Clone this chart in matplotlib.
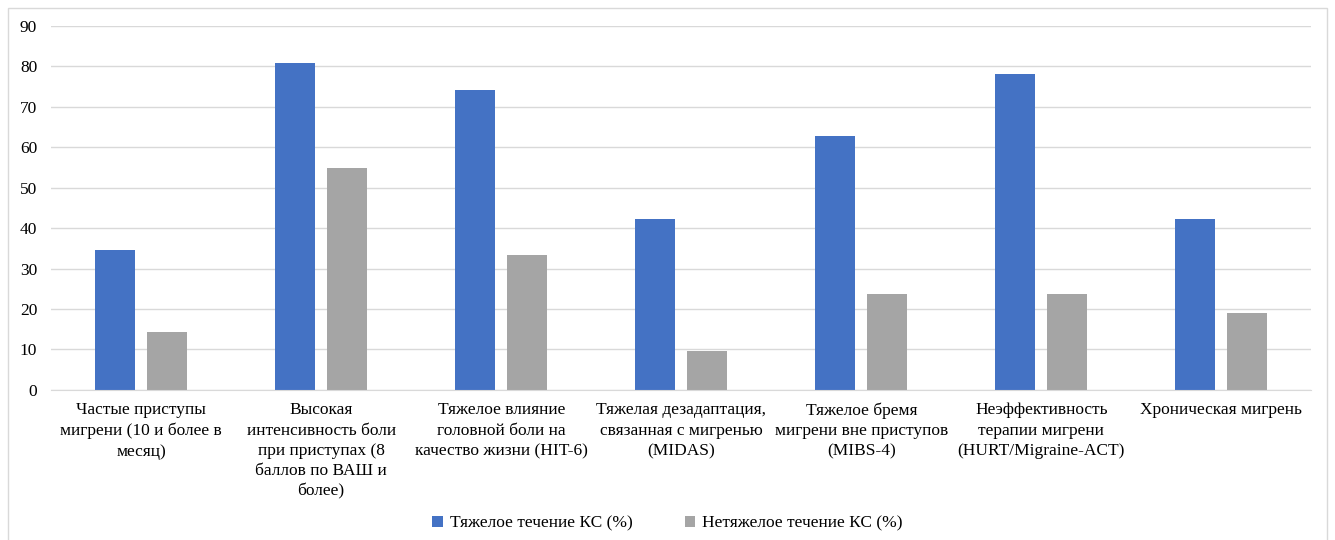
import matplotlib
matplotlib.use("Agg")
import matplotlib.pyplot as plt
import numpy as np
from matplotlib.patches import Rectangle

plt.rcParams["font.family"] = ["Liberation Serif", "DejaVu Serif"]

categories = [
    "Частые приступы\nмигрени (10 и более в\nмесяц)",
    "Высокая\nинтенсивность боли\nпри приступах (8\nбаллов по ВАШ и\nболее)",
    "Тяжелое влияние\nголовной боли на\nкачество жизни (HIT-6)",
    "Тяжелая дезадаптация,\nсвязанная с мигренью\n(MIDAS)",
    "Тяжелое бремя\nмигрени вне приступов\n(MIBS-4)",
    "Неэффективность\nтерапии мигрени\n(HURT/Migraine-ACT)",
    "Хроническая мигрень",
]
severe = [34.6, 80.8, 74.2, 42.3, 62.8, 78.2, 42.3]
non_severe = [14.3, 54.8, 33.3, 9.5, 23.8, 23.8, 19.0]
series_names = ["Тяжелое течение КС (%)", "Нетяжелое течение КС (%)"]

fig = plt.figure(figsize=(13.35, 5.4), dpi=100)
ax = fig.add_axes([0.0383, 0.278, 0.944, 0.674])

x = np.arange(len(categories))
w = 0.222
ax.bar(x - 0.145, severe, w, color="#4472C4", label=series_names[0], zorder=2)
ax.bar(x + 0.145, non_severe, w, color="#A5A5A5", label=series_names[1], zorder=2)

ax.set_xlim(-0.5, len(categories) - 0.5)
ax.set_ylim(0, 90)
ax.set_yticks(range(0, 91, 10))
ax.grid(axis="y", color="#d9d9d9", lw=1.0, zorder=0)
for s in ["top", "right", "left"]:
    ax.spines[s].set_visible(False)
ax.spines["bottom"].set_color("#d9d9d9")
ax.tick_params(axis="both", length=0, labelsize=12.5)
ax.tick_params(axis="y", pad=10)
ax.set_xticks(x)
ax.set_xticklabels(categories, fontsize=12.5, linespacing=1.36, va="top")
ax.tick_params(axis="x", pad=9)

fig.legend(loc="center", bbox_to_anchor=(0.5, 0.03), ncol=2, frameon=False,
           fontsize=12.5, handlelength=0.6, handleheight=0.6, handletextpad=0.4,
           columnspacing=3.0)

# thin frame around the chart area
fig.add_artist(Rectangle((8 / 1335, -0.05), 1319 / 1335, 1.05 - 8 / 540,
                         transform=fig.transFigure, fill=False,
                         ec="#d9d9d9", lw=1.0))

fig.savefig("out.png", dpi=100)
